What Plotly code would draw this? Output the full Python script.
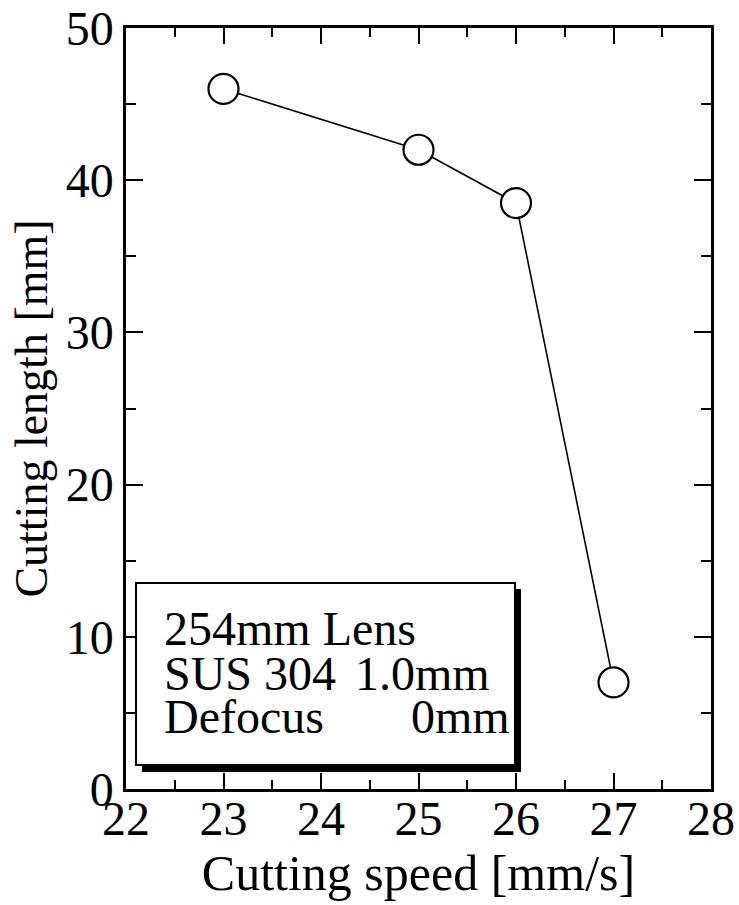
import plotly.graph_objects as go

# Cutting length versus cutting speed (254mm lens, SUS 304 1.0mm, defocus 0mm)
speed = [23, 25, 26, 27]
length = [46, 42, 38.5, 7]

x_ticks = [22, 23, 24, 25, 26, 27, 28]
y_ticks = [0, 10, 20, 30, 40, 50]

FONT = "Liberation Serif, Times New Roman, serif"

W, H = 739, 905
ML, MR, MT, MB = 126, 28, 28, 116
PW, PH = W - ML - MR, H - MT - MB


def px(x):
    return (x - ML) / PW


def py(y):
    return (H - MB - y) / PH


fig = go.Figure()
fig.add_trace(go.Scatter(
    x=speed, y=length, mode="lines+markers",
    line=dict(color="black", width=1.6),
    marker=dict(symbol="circle", size=30, color="white",
                line=dict(color="black", width=2.2)),
    showlegend=False, cliponaxis=False,
))

axis_common = dict(
    showgrid=False, zeroline=False, showline=True, linecolor="black",
    linewidth=2.5, mirror="ticks", ticks="inside", tickcolor="black",
    tickwidth=2, automargin=False,
    tickfont=dict(family=FONT, size=48, color="black"),
)

fig.update_xaxes(
    range=[22, 28], tickvals=x_ticks, ticklen=16, ticklabelstandoff=-14,
    minor=dict(dtick=0.5, tick0=22, ticks="inside", ticklen=9,
               tickwidth=2, tickcolor="black"),
    title=dict(text="Cutting speed [mm/s]",
               font=dict(family=FONT, size=50, color="black"), standoff=4),
    **axis_common,
)
fig.update_yaxes(
    range=[0, 50], tickvals=y_ticks, ticklen=17, ticklabelstandoff=0,
    minor=dict(dtick=5, tick0=0, ticks="inside", ticklen=10,
               tickwidth=2, tickcolor="black"),
    title=dict(text="Cutting length [mm]",
               font=dict(family=FONT, size=46, color="black"), standoff=4),
    **axis_common,
)

# Condition box with offset drop shadow
bx0, by0, bx1, by1 = 136, 583, 515, 765
fig.add_shape(type="rect", xref="paper", yref="paper", layer="above",
              x0=px(bx0 + 6), x1=px(bx1 + 6), y0=py(by1 + 7), y1=py(by0 + 6),
              fillcolor="black", line=dict(width=0))
fig.add_shape(type="rect", xref="paper", yref="paper", layer="above",
              x0=px(bx0), x1=px(bx1), y0=py(by1), y1=py(by0),
              fillcolor="white", line=dict(color="black", width=2))

box_font = dict(family=FONT, size=48, color="black")
lines = [
    ("254mm Lens", 162, "left", 628),
    ("SUS 304", 162, "left", 673),
    ("1.0mm", 492, "right", 673),
    ("Defocus", 162, "left", 716),
    ("0mm", 512, "right", 716),
]
for text, xpix, anchor, ypix in lines:
    fig.add_annotation(text=text, xref="paper", yref="paper",
                       x=px(xpix), y=py(ypix), xanchor=anchor,
                       yanchor="middle", showarrow=False, font=box_font,
                       height=42, valign="middle")

fig.update_layout(
    width=W, height=H,
    margin=dict(l=ML, r=MR, t=MT, b=MB),
    paper_bgcolor="white", plot_bgcolor="white",
)

fig.write_html("out.html")
